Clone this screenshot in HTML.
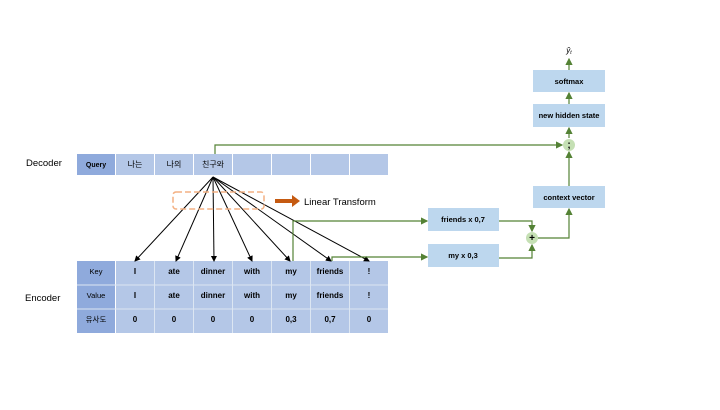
<!DOCTYPE html><html><head><meta charset="utf-8"><style>
body{margin:0;width:720px;height:405px;background:#fff;overflow:hidden}
svg text{font-family:"Liberation Sans","Noto Sans CJK KR",sans-serif}
</style></head><body>
<svg width="720" height="405" viewBox="0 0 720 405" xmlns="http://www.w3.org/2000/svg">
<defs>
<marker id="a" markerWidth="6" markerHeight="6" refX="5" refY="3" orient="auto"><path d="M0,0L6,3L0,6z" fill="#000"/></marker>
<marker id="g" markerWidth="6" markerHeight="6" refX="5" refY="3" orient="auto"><path d="M0,0L6,3L0,6z" fill="#548235"/></marker>
</defs>
<g font-size="8" text-anchor="middle" font-weight="bold">
<!-- decoder -->
<rect x="77" y="154" width="38" height="21" fill="#8faadc"/>
<g fill="#b4c7e7">
<rect x="116" y="154" width="38" height="21"/><rect x="155" y="154" width="38" height="21"/><rect x="194" y="154" width="38" height="21"/><rect x="233" y="154" width="38" height="21"/><rect x="272" y="154" width="38" height="21"/><rect x="311" y="154" width="38" height="21"/><rect x="350" y="154" width="38" height="21"/>
</g>
<text x="96" y="167" font-size="7">Query</text>
<text x="135" y="167" font-weight="normal">나는</text>
<text x="174" y="167" font-weight="normal">나의</text>
<text x="213" y="167" font-weight="normal">친구와</text>
<!-- encoder -->
<rect x="77" y="261" width="38" height="72" fill="#8faadc"/>
<rect x="116" y="261" width="272" height="72" fill="#b4c7e7"/>
<g stroke="#dce6f2" stroke-width="1">
<line x1="154.5" y1="261" x2="154.5" y2="333"/><line x1="193.5" y1="261" x2="193.5" y2="333"/><line x1="232.5" y1="261" x2="232.5" y2="333"/><line x1="271.5" y1="261" x2="271.5" y2="333"/><line x1="310.5" y1="261" x2="310.5" y2="333"/><line x1="349.5" y1="261" x2="349.5" y2="333"/>
<line x1="77" y1="285" x2="388" y2="285"/><line x1="77" y1="309" x2="388" y2="309"/>
</g>
<g font-weight="normal" font-size="7.5" font-weight="bold">
<text x="96" y="274">Key</text><text x="96" y="298">Value</text><text x="96" y="322">유사도</text>
</g>
<g>
<text x="135" y="274">I</text><text x="174" y="274">ate</text><text x="213" y="274">dinner</text><text x="252" y="274">with</text><text x="291" y="274">my</text><text x="330" y="274">friends</text><text x="369" y="274">!</text>
<text x="135" y="298">I</text><text x="174" y="298">ate</text><text x="213" y="298">dinner</text><text x="252" y="298">with</text><text x="291" y="298">my</text><text x="330" y="298">friends</text><text x="369" y="298">!</text>
<text x="135" y="322">0</text><text x="174" y="322">0</text><text x="213" y="322">0</text><text x="252" y="322">0</text><text x="291" y="322">0,3</text><text x="330" y="322">0,7</text><text x="369" y="322">0</text>
</g>
</g>
<text x="26" y="166" font-size="9.5">Decoder</text>
<text x="25" y="301" font-size="9.5">Encoder</text>
<!-- arrows -->
<g stroke="#000" stroke-width="1" marker-end="url(#a)">
<line x1="213" y1="177" x2="135" y2="261"/><line x1="213" y1="177" x2="176" y2="261"/><line x1="213" y1="177" x2="214" y2="261"/><line x1="213" y1="177" x2="252" y2="261"/><line x1="213" y1="177" x2="290" y2="261"/><line x1="213" y1="177" x2="331" y2="261"/><line x1="213" y1="177" x2="369" y2="261"/>
</g>
<rect x="173" y="192" width="91" height="17" rx="3" fill="none" stroke="#f4b183" stroke-width="1.5" stroke-dasharray="6,3"/>
<path d="M275 199h17v-4l8 6-8 6v-4h-17z" fill="#c55a11"/>
<text x="304" y="205" font-size="9.5">Linear Transform</text>
<!-- green -->
<g stroke="#548235" stroke-width="1.2" fill="none">
<polyline points="215,154 215,145 562,145" marker-end="url(#g)"/>
<polyline points="293,261 293,221 427,221" marker-end="url(#g)"/>
<polyline points="332,261 332,257 427,257" marker-end="url(#g)"/>
<polyline points="499,221 532,221 532,231" marker-end="url(#g)"/>
<polyline points="499,258 532,258 532,245" marker-end="url(#g)"/>
<polyline points="538,238 569,238 569,209" marker-end="url(#g)"/>
<line x1="569" y1="186" x2="569" y2="152" marker-end="url(#g)"/>
<line x1="569" y1="138" x2="569" y2="128" marker-end="url(#g)"/>
<line x1="569" y1="104" x2="569" y2="93" marker-end="url(#g)"/>
<line x1="569" y1="70" x2="569" y2="59" marker-end="url(#g)"/>
</g>
<g fill="#bdd7ee">
<rect x="428" y="208" width="71" height="23"/><rect x="428" y="244" width="71" height="23"/>
<rect x="533" y="186" width="72" height="22"/><rect x="533" y="104" width="72" height="23"/><rect x="533" y="70" width="72" height="22"/>
</g>
<circle cx="532" cy="238" r="6" fill="#c5e0b4"/><circle cx="569" cy="145" r="6" fill="#c5e0b4"/>
<g font-size="7.5" text-anchor="middle" font-weight="bold">
<text x="463" y="222">friends x 0,7</text><text x="463" y="258">my x 0,3</text>
<text x="569" y="200">context vector</text><text x="569" y="118">new hidden state</text><text x="569" y="84">softmax</text>
<text x="532" y="241" font-size="10">+</text><text x="569" y="148" font-size="10">;</text>
</g>
<text x="569" y="53" font-size="8" text-anchor="middle" font-style="italic">ŷ<tspan font-size="5" dy="1">t</tspan></text>
</svg>
</body></html>
